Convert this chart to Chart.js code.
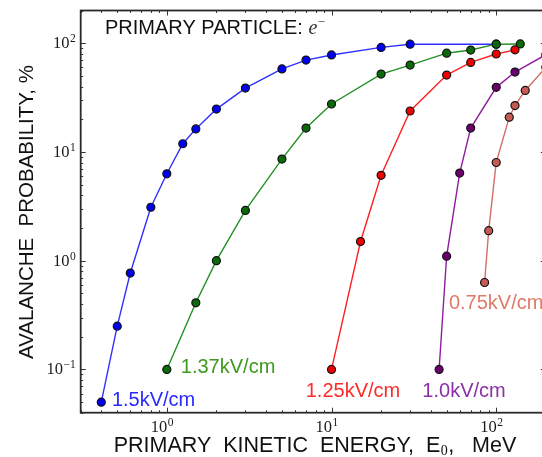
<!DOCTYPE html>
<html><head><meta charset="utf-8">
<script src="https://cdn.jsdelivr.net/npm/chart.js@4"></script>
<style>html,body{margin:0;padding:0;overflow:hidden;background:#fff}canvas{display:block}</style>
</head><body><canvas id="c" width="600" height="457"></canvas>
<script>
// ---- data (energy in MeV, probability in %) ----
const xBlue   = [0.4, 0.5, 0.6, 0.8, 1.0, 1.25, 1.5, 2, 3, 5, 7, 10, 20, 30, 100];
const yBlue   = [0.05, 0.25, 0.77, 3.1, 6.3, 11.9, 16.3, 24.8, 38.7, 58, 70, 78, 91.5, 98, 98];
const xGreen  = [1, 1.5, 2, 3, 5, 7, 10, 20, 30, 50, 70, 100, 140];
const yGreen  = [0.1, 0.41, 1.0, 2.9, 8.6, 16.6, 27.6, 52, 63, 81, 86.6, 98, 98.5];
const xRed    = [10, 15, 20, 30, 50, 70, 100, 130];
const yRed    = [0.1, 1.5, 6.1, 23.8, 51, 66.6, 79.6, 87];
const xPurple = [45, 50, 60, 70, 100, 130, 200];
const yPurple = [0.1, 1.1, 6.4, 16.6, 39.3, 54.3, 78.4];
const xSalmon = [85, 90, 100, 120, 130, 150, 200];
const ySalmon = [0.63, 1.89, 8.0, 20.9, 26.7, 36.8, 60];

const seriesNames = ['1.5kV/cm', '1.37kV/cm', '1.25kV/cm', '1.0kV/cm', '0.75kV/cm'];
const labelX = [0.464, 1.216, 6.97, 35.6, 51.6];
const labelY = [0.0519, 0.1043, 0.0632, 0.0632, 0.4026];

const xTickValues = [1, 10, 100];
const xTickExp = ['0', '1', '2'];
const yTickValues = [0.1, 1, 10, 100];
const yTickExp = ['\u22121', '0', '1', '2'];

const xTitleParts = ['PRIMARY  KINETIC  ENERGY,  E', '0', ',   MeV'];
const yTitle = 'AVALANCHE  PROBABILITY, %';
const topText = 'PRIMARY PARTICLE: ';

const lineColors  = ['#3030ff', '#249124', '#ff2020', '#8e1d9e', '#d26e68'];
const pointColors = ['#0000ee', '#0a6a0a', '#ee0000', '#6a006e', '#c65a55'];
const textColors  = ['#2a2aff', '#3c9a1c', '#ff2a2a', '#8a30a8', '#e07a68'];

const seriesX = [xBlue, xGreen, xRed, xPurple, xSalmon];
const seriesY = [yBlue, yGreen, yRed, yPurple, ySalmon];

const datasets = seriesX.map((xs, k) => ({
  label: seriesNames[k],
  data: xs.map((x, i) => ({x: x, y: seriesY[k][i]})),
  borderColor: lineColors[k],
  backgroundColor: pointColors[k],
  pointBackgroundColor: pointColors[k],
  pointBorderColor: '#111',
  pointBorderWidth: 1.2,
  pointRadius: 4,
  borderWidth: 1.4,
  tension: 0,
  order: 5 - k
}));

const SANS = '"Liberation Sans", Arial, sans-serif';
const SERIF = '"Liberation Serif", "DejaVu Serif", serif';

const decor = {
  id: 'decor',
  afterDraw(chart) {
    const ctx = chart.ctx, a = chart.chartArea;
    const xs = chart.scales.x, ys = chart.scales.y;
    ctx.save();
    // frame
    ctx.strokeStyle = '#2a2a2a';
    ctx.lineWidth = 1.8;
    ctx.strokeRect(a.left, a.top, a.right - a.left, a.bottom - a.top);
    // ticks
    ctx.lineWidth = 1;
    ctx.strokeStyle = '#333';
    const tick = (p, len, horiz) => {
      ctx.beginPath();
      if (horiz) {
        ctx.moveTo(p, a.bottom); ctx.lineTo(p, a.bottom - len);
        ctx.moveTo(p, a.top); ctx.lineTo(p, a.top + len);
      } else {
        ctx.moveTo(a.left, p); ctx.lineTo(a.left + len, p);
        ctx.moveTo(a.right, p); ctx.lineTo(a.right - len, p);
      }
      ctx.stroke();
    };
    for (let e = -1; e <= 2; e++) {
      for (let m = 1; m <= 9; m++) {
        const v = m * Math.pow(10, e);
        if (v >= xs.min && v <= xs.max) tick(Math.round(xs.getPixelForValue(v)) + 0.5, m === 1 ? 5 : 2.5, true);
      }
    }
    for (let e = -2; e <= 2; e++) {
      for (let m = 1; m <= 9; m++) {
        const v = m * Math.pow(10, e);
        if (v >= ys.min && v <= ys.max) tick(Math.round(ys.getPixelForValue(v)) + 0.5, m === 1 ? 5 : 2.5, false);
      }
    }
    // tick labels
    ctx.fillStyle = '#1a1a1a';
    ctx.textBaseline = 'alphabetic';
    const big = '16.5px ' + SERIF, small = '11.5px ' + SERIF;
    xTickValues.forEach((v, i) => {
      const p = xs.getPixelForValue(v);
      const base = a.bottom + 19;
      ctx.font = big; ctx.textAlign = 'right';
      ctx.fillText('10', p + 0.5, base);
      ctx.font = small; ctx.textAlign = 'left';
      ctx.fillText(xTickExp[i], p + 1, base - 6);
    });
    yTickValues.forEach((v, i) => {
      const p = ys.getPixelForValue(v);
      const base = p + 5;
      ctx.font = small; ctx.textAlign = 'right';
      const ew = ctx.measureText(yTickExp[i]).width;
      const right = a.left - 5;
      ctx.fillText(yTickExp[i], right, base - 6);
      ctx.font = big;
      ctx.fillText('10', right - ew - 0.5, base);
    });
    // x title
    ctx.fillStyle = '#111';
    const tf = '21.5px ' + SANS;
    ctx.font = tf;
    const w0 = ctx.measureText(xTitleParts[0]).width;
    const w2 = ctx.measureText(xTitleParts[2]).width;
    ctx.font = '14px ' + SERIF;
    const w1 = ctx.measureText(xTitleParts[1]).width;
    const tot = w0 + w1 + 1 + w2;
    let sx = 315 - tot / 2;
    const tb = 452;
    ctx.textAlign = 'left';
    ctx.font = tf; ctx.fillText(xTitleParts[0], sx, tb);
    ctx.font = '14px ' + SERIF; ctx.fillText(xTitleParts[1], sx + w0 + 0.5, tb + 3);
    ctx.font = tf; ctx.fillText(xTitleParts[2], sx + w0 + w1 + 1, tb);
    // y title
    ctx.save();
    ctx.translate(33, 212);
    ctx.rotate(-Math.PI / 2);
    ctx.font = '20.5px ' + SANS;
    ctx.textAlign = 'center';
    ctx.fillText(yTitle, 0, 0);
    ctx.restore();
    // top annotation
    ctx.font = '20px ' + SANS;
    ctx.textAlign = 'left';
    ctx.fillText(topText, 105, 34);
    const tw = ctx.measureText(topText).width;
    ctx.font = 'italic 20px ' + SERIF;
    ctx.fillStyle = '#333';
    ctx.fillText('e', 105 + tw, 34);
    const ew2 = ctx.measureText('e').width;
    ctx.font = '13px ' + SERIF;
    ctx.fillText('\u2212', 105 + tw + ew2 + 0.5, 26);
    // series labels
    ctx.font = '20px ' + SANS;
    ctx.textBaseline = 'middle';
    seriesNames.forEach((s, k) => {
      ctx.fillStyle = textColors[k];
      ctx.fillText(s, xs.getPixelForValue(labelX[k]), ys.getPixelForValue(labelY[k]));
    });
    ctx.restore();
  }
};

new Chart(document.getElementById('c'), {
  type: 'line',
  data: {datasets: datasets},
  options: {
    responsive: false,
    animation: false,
    layout: {padding: {left: 80.7, right: 54.2, top: 10.5, bottom: 44.3}},
    scales: {
      x: {type: 'logarithmic', min: 0.3, max: 200, display: false},
      y: {type: 'logarithmic', min: 0.04, max: 200, display: false}
    },
    plugins: {legend: {display: false}, tooltip: {enabled: false}}
  },
  plugins: [decor]
});
</script>
</body></html>
